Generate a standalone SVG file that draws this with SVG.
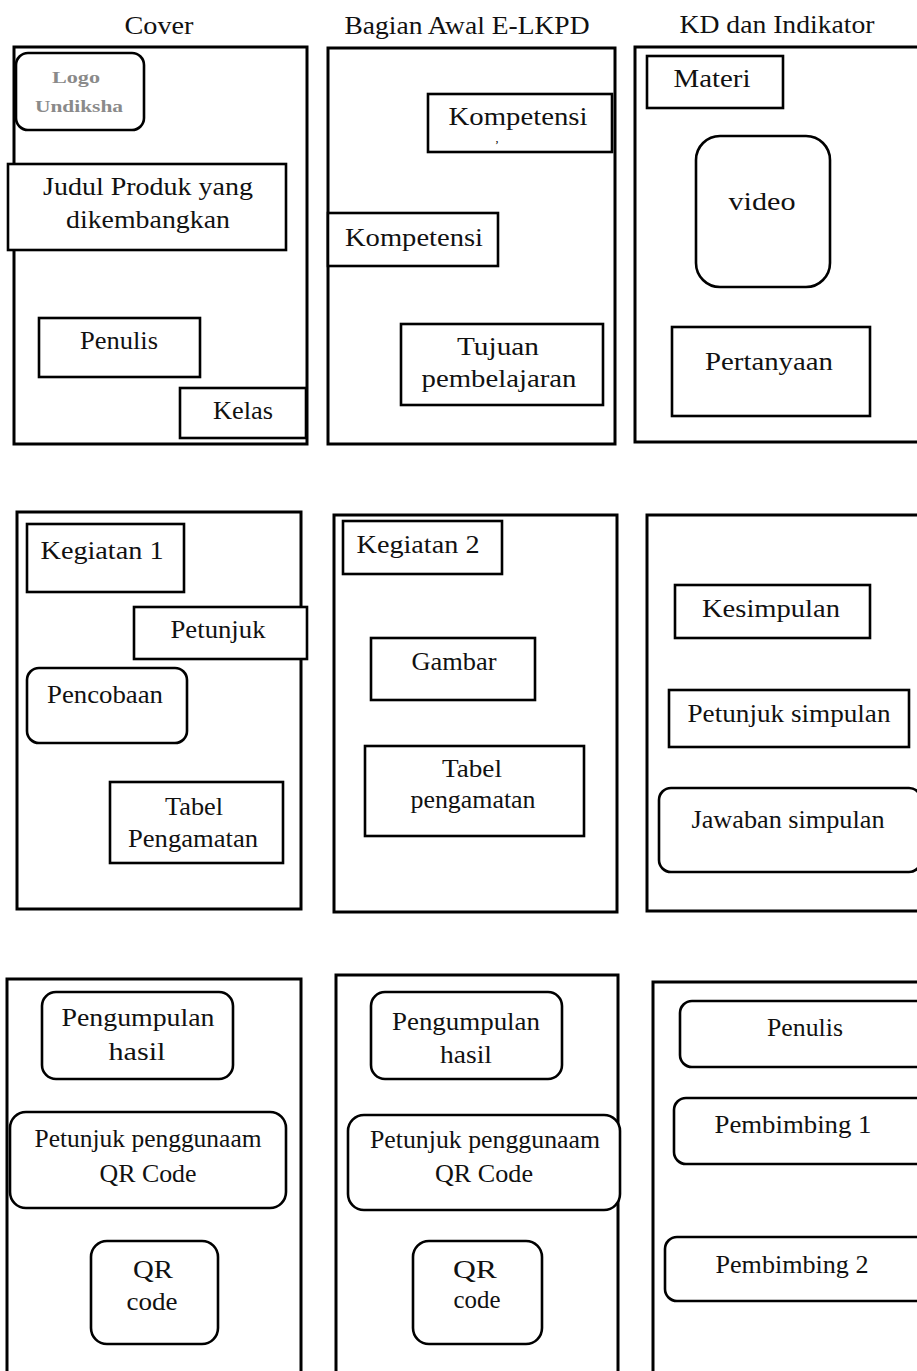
<svg xmlns="http://www.w3.org/2000/svg" width="917" height="1371" viewBox="0 0 917 1371">
<style>
.page{fill:none;stroke:#000;stroke-width:3}
.box{fill:#fff;stroke:#000;stroke-width:2.6}
text{font-family:"Liberation Serif","Times New Roman",serif;font-weight:400;font-style:normal}
.t,.h{font-size:26px;fill:#111;text-anchor:middle}
.logo{font-size:17px;font-weight:bold;fill:#8a8a8a;text-anchor:middle}
</style>
<rect width="917" height="1371" fill="#fff"/>
<g id="connectors"></g>

<g id="titles">
<text class="h" x="159" y="34" textLength="69" lengthAdjust="spacingAndGlyphs">Cover</text>
<text class="h" x="467" y="34" textLength="245" lengthAdjust="spacingAndGlyphs">Bagian Awal E-LKPD</text>
<text class="h" x="777" y="33" textLength="195" lengthAdjust="spacingAndGlyphs">KD dan Indikator</text>
</g>

<g id="page-cover">
<rect class="page" x="14" y="47" width="293" height="397"/>
<g id="logo"><rect class="box" x="16" y="53" width="128" height="77" rx="12"/>
<text class="logo" x="76" y="83" textLength="48" lengthAdjust="spacingAndGlyphs">Logo</text><text class="logo" x="79" y="112" textLength="88" lengthAdjust="spacingAndGlyphs">Undiksha</text></g>
<g id="judul"><rect class="box" x="8" y="164" width="278" height="86"/>
<text class="t" x="148" y="195" textLength="210" lengthAdjust="spacingAndGlyphs">Judul Produk yang</text><text class="t" x="148" y="228" textLength="164" lengthAdjust="spacingAndGlyphs">dikembangkan</text></g>
<g id="penulis1"><rect class="box" x="39" y="318" width="161" height="59"/>
<text class="t" x="119" y="349" textLength="78" lengthAdjust="spacingAndGlyphs">Penulis</text></g>
<g id="kelas"><rect class="box" x="180" y="388" width="126" height="50"/>
<text class="t" x="243" y="419" textLength="60" lengthAdjust="spacingAndGlyphs">Kelas</text></g>
</g>

<g id="page-awal">
<rect class="page" x="328" y="48" width="287" height="396"/>
<g id="kompetensi1"><rect class="box" x="428" y="94" width="184" height="58"/>
<text class="t" x="518" y="125" textLength="139" lengthAdjust="spacingAndGlyphs">Kompetensi</text><text x="497" y="142" font-size="12" text-anchor="middle">,</text></g>
<g id="kompetensi2"><rect class="box" x="328" y="213" width="170" height="53"/>
<text class="t" x="414" y="246" textLength="138" lengthAdjust="spacingAndGlyphs">Kompetensi</text></g>
<g id="tujuan"><rect class="box" x="401" y="324" width="202" height="81"/>
<text class="t" x="498" y="355" textLength="82" lengthAdjust="spacingAndGlyphs">Tujuan</text><text class="t" x="499" y="387" textLength="155" lengthAdjust="spacingAndGlyphs">pembelajaran</text></g>
</g>

<g id="page-kd">
<rect class="page" x="635" y="47" width="290" height="395"/>
<g id="materi"><rect class="box" x="647" y="56" width="136" height="52"/>
<text class="t" x="712" y="87" textLength="77" lengthAdjust="spacingAndGlyphs">Materi</text></g>
<g id="video"><rect class="box" x="696" y="136" width="134" height="151" rx="24"/>
<text class="t" x="762" y="210" textLength="67" lengthAdjust="spacingAndGlyphs">video</text></g>
<g id="pertanyaan"><rect class="box" x="672" y="327" width="198" height="89"/>
<text class="t" x="769" y="370" textLength="128" lengthAdjust="spacingAndGlyphs">Pertanyaan</text></g>
</g>

<g id="page-kegiatan1">
<rect class="page" x="17" y="512" width="284" height="397"/>
<g id="kegiatan1"><rect class="box" x="27" y="524" width="157" height="68"/>
<text class="t" x="102" y="559" textLength="123" lengthAdjust="spacingAndGlyphs">Kegiatan 1</text></g>
<g id="petunjuk"><rect class="box" x="134" y="607" width="173" height="52"/>
<text class="t" x="218" y="638" textLength="95" lengthAdjust="spacingAndGlyphs">Petunjuk</text></g>
<g id="pencobaan"><rect class="box" x="27" y="668" width="160" height="75" rx="12"/>
<text class="t" x="105" y="703" textLength="116" lengthAdjust="spacingAndGlyphs">Pencobaan</text></g>
<g id="tabel1"><rect class="box" x="110" y="782" width="173" height="81"/>
<text class="t" x="194" y="815" textLength="58" lengthAdjust="spacingAndGlyphs">Tabel</text><text class="t" x="193" y="847" textLength="130" lengthAdjust="spacingAndGlyphs">Pengamatan</text></g>
</g>

<g id="page-kegiatan2">
<rect class="page" x="334" y="515" width="283" height="397"/>
<g id="kegiatan2"><rect class="box" x="343" y="521" width="159" height="53"/>
<text class="t" x="418" y="553" textLength="123" lengthAdjust="spacingAndGlyphs">Kegiatan 2</text></g>
<g id="gambar"><rect class="box" x="371" y="638" width="164" height="62"/>
<text class="t" x="454" y="670" textLength="85" lengthAdjust="spacingAndGlyphs">Gambar</text></g>
<g id="tabel2"><rect class="box" x="365" y="746" width="219" height="90"/>
<text class="t" x="472" y="777" textLength="60" lengthAdjust="spacingAndGlyphs">Tabel</text><text class="t" x="473" y="808" textLength="125" lengthAdjust="spacingAndGlyphs">pengamatan</text></g>
</g>

<g id="page-kesimpulan">
<rect class="page" x="647" y="515" width="280" height="396"/>
<g id="kesimpulan"><rect class="box" x="675" y="585" width="195" height="53"/>
<text class="t" x="771" y="617" textLength="138" lengthAdjust="spacingAndGlyphs">Kesimpulan</text></g>
<g id="petunjuk-simpulan"><rect class="box" x="669" y="690" width="240" height="57"/>
<text class="t" x="789" y="722" textLength="203" lengthAdjust="spacingAndGlyphs">Petunjuk simpulan</text></g>
<g id="jawaban"><rect class="box" x="659" y="788" width="262" height="84" rx="12"/>
<text class="t" x="788" y="828" textLength="193" lengthAdjust="spacingAndGlyphs">Jawaban simpulan</text></g>
</g>

<g id="page-qr1">
<rect class="page" x="7" y="979" width="294" height="420"/>
<g id="kumpul1"><rect class="box" x="42" y="992" width="191" height="87" rx="14"/>
<text class="t" x="138" y="1026" textLength="153" lengthAdjust="spacingAndGlyphs">Pengumpulan</text><text class="t" x="137" y="1060" textLength="57" lengthAdjust="spacingAndGlyphs">hasil</text></g>
<g id="petunjukqr1"><rect class="box" x="10" y="1112" width="276" height="96" rx="16"/>
<text class="t" x="148" y="1147" textLength="227" lengthAdjust="spacingAndGlyphs">Petunjuk penggunaam</text><text class="t" x="148" y="1182" textLength="97" lengthAdjust="spacingAndGlyphs">QR Code</text></g>
<g id="qr1"><rect class="box" x="91" y="1241" width="127" height="103" rx="16"/>
<text class="t" x="153" y="1278" textLength="40" lengthAdjust="spacingAndGlyphs">QR</text><text class="t" x="152" y="1310" textLength="51" lengthAdjust="spacingAndGlyphs">code</text></g>
</g>

<g id="page-qr2">
<rect class="page" x="336" y="975" width="282" height="420"/>
<g id="kumpul2"><rect class="box" x="371" y="992" width="191" height="87" rx="14"/>
<text class="t" x="466" y="1030" textLength="148" lengthAdjust="spacingAndGlyphs">Pengumpulan</text><text class="t" x="466" y="1063" textLength="52" lengthAdjust="spacingAndGlyphs">hasil</text></g>
<g id="petunjukqr2"><rect class="box" x="348" y="1115" width="272" height="95" rx="16"/>
<text class="t" x="485" y="1148" textLength="230" lengthAdjust="spacingAndGlyphs">Petunjuk penggunaam</text><text class="t" x="484" y="1182" textLength="98" lengthAdjust="spacingAndGlyphs">QR Code</text></g>
<g id="qr2"><rect class="box" x="413" y="1241" width="129" height="103" rx="16"/>
<text class="t" x="475" y="1278" textLength="44" lengthAdjust="spacingAndGlyphs">QR</text><text class="t" x="477" y="1308" textLength="47" lengthAdjust="spacingAndGlyphs">code</text></g>
</g>

<g id="page-penutup">
<rect class="page" x="653" y="982" width="280" height="420"/>
<g id="penulis2"><rect class="box" x="680" y="1001" width="250" height="66" rx="12"/>
<text class="t" x="805" y="1036" textLength="76" lengthAdjust="spacingAndGlyphs">Penulis</text></g>
<g id="pembimbing1"><rect class="box" x="674" y="1098" width="256" height="66" rx="12"/>
<text class="t" x="793" y="1133" textLength="157" lengthAdjust="spacingAndGlyphs">Pembimbing 1</text></g>
<g id="pembimbing2"><rect class="box" x="665" y="1237" width="265" height="64" rx="12"/>
<text class="t" x="792" y="1273" textLength="153" lengthAdjust="spacingAndGlyphs">Pembimbing 2</text></g>
</g>
</svg>
